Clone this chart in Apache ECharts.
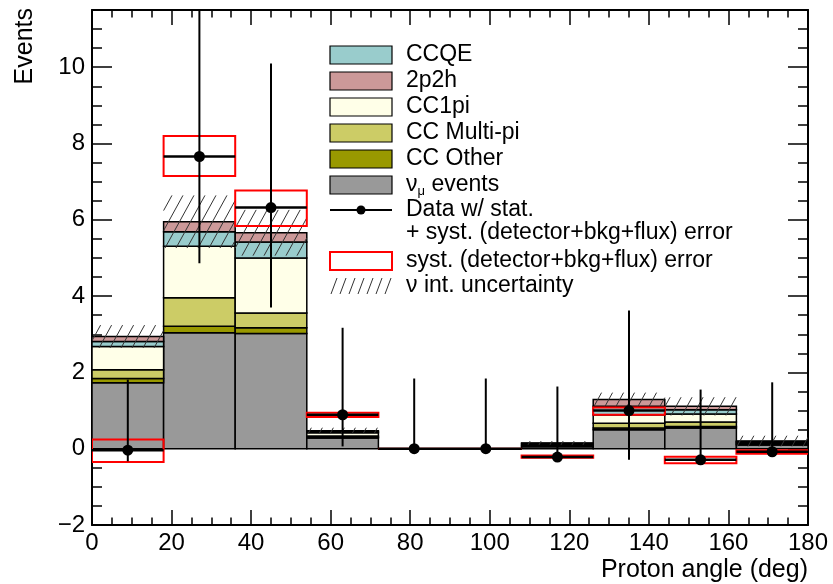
<!DOCTYPE html>
<html>
<head>
<meta charset="utf-8">
<script src="https://cdn.jsdelivr.net/npm/echarts@6/dist/echarts.min.js"></script>
<style>html,body{margin:0;padding:0;background:#fff}#c{width:833px;height:584px}</style>
</head>
<body>
<div id="c"></div>
<script>
// ---- data ----
const binEdges = [0, 18, 36, 54, 72, 90, 108, 126, 144, 162, 180];
// stacked contributions per bin (bottom to top)
const nuMuEvents = [1.73, 3.04, 3.02, 0.28, 0, 0, 0.05, 0.50, 0.54, 0.10];
const ccOther    = [0.11, 0.17, 0.15, 0.02, 0, 0, 0.02, 0.04, 0.04, 0.02];
const ccMultiPi  = [0.23, 0.75, 0.39, 0.03, 0, 0, 0.02, 0.13, 0.12, 0.02];
const cc1pi      = [0.61, 1.35, 1.44, 0.09, 0, 0, 0.03, 0.22, 0.21, 0.03];
const ccqe       = [0.13, 0.38, 0.42, 0.03, 0, 0, 0.02, 0.22, 0.11, 0.02];
const twoP2h     = [0.13, 0.26, 0.24, 0.02, 0, 0, 0.01, 0.18, 0.09, 0.01];
const nuIntUnc   = [0.30, 0.69, 0.60, 0.08, 0, 0, 0.05, 0.18, 0.24, 0.14];
// data
const dataVal  = [-0.04, 7.66, 6.32, 0.89, 0, 0, -0.22, 1.00, -0.29, -0.08];
const errLow   = [-0.33, 4.86, 3.70, 0.06, 0, 0, -0.33, -0.29, -0.37, -0.20];
const errHigh  = [1.81, 12.0, 10.10, 3.17, 1.84, 1.84, 1.63, 3.62, 1.55, 1.74];
const systLow  = [-0.35, 7.15, 5.84, 0.83, 0, 0, -0.24, 0.89, -0.38, -0.13];
const systHigh = [0.24, 8.20, 6.77, 0.94, 0, 0, -0.18, 1.08, -0.21, -0.04];
const xTicks = [0, 20, 40, 60, 80, 100, 120, 140, 160, 180];
const yTicks = [-2, 0, 2, 4, 6, 8, 10];

const FONT = '"Liberation Sans", Arial, Helvetica, sans-serif';
const layers = [
  {name: 'nu_mu events', vals: nuMuEvents, color: '#999999'},
  {name: 'CC Other', vals: ccOther, color: '#999900'},
  {name: 'CC Multi-pi', vals: ccMultiPi, color: '#CCCC66'},
  {name: 'CC1pi', vals: cc1pi, color: '#FFFFE8'},
  {name: 'CCQE', vals: ccqe, color: '#99CCCC'},
  {name: '2p2h', vals: twoP2h, color: '#CC9999'}
];

const nb = binEdges.length - 1;
const cum = new Array(nb).fill(0);
const series = [];
layers.forEach((ly, li) => {
  const d = [];
  for (let i = 0; i < nb; i++) {
    const lo = cum[i];
    const hi = lo + ly.vals[i];
    cum[i] = hi;
    d.push([binEdges[i], binEdges[i + 1], lo, hi]);
  }
  const col = ly.color;
  series.push({
    type: 'custom', name: ly.name, xAxisIndex: 0, yAxisIndex: 0, z: 2 + li * 0.01,
    clip: true, encode: {x: [0, 1], y: [2, 3]}, data: d,
    renderItem: function (params, api) {
      const a = api.coord([api.value(0), api.value(3)]);
      const b = api.coord([api.value(1), api.value(2)]);
      return {type: 'rect', shape: {x: a[0], y: a[1], width: b[0] - a[0], height: b[1] - a[1]},
        style: {fill: col, stroke: '#000', lineWidth: 1.5}};
    }
  });
});

// hatch band
const hatchData = [];
for (let i = 0; i < nb; i++) hatchData.push([binEdges[i], binEdges[i + 1], cum[i] - nuIntUnc[i], cum[i] + nuIntUnc[i]]);
series.push({
  type: 'custom', name: 'nu int. uncertainty', z: 3, clip: true, encode: {x: [0, 1], y: [2, 3]}, data: hatchData,
  renderItem: function (params, api) {
    const a = api.coord([api.value(0), api.value(3)]);
    const b = api.coord([api.value(1), api.value(2)]);
    const L = a[0], R = b[0], T = a[1], B = b[1], H = B - T;
    const s = 11, m = 0.55;
    const ch = [];
    if (H > 0.5) {
      for (let c = Math.floor((L - m * H) / s) * s; c <= R; c += s) {
        const u1 = Math.max(0, (L - c) / m), u2 = Math.min(H, (R - c) / m);
        if (u2 > u1) ch.push({type: 'line', shape: {x1: c + m * u1, y1: B - u1, x2: c + m * u2, y2: B - u2},
          style: {stroke: '#333', lineWidth: 1}});
      }
    }
    return {type: 'group', children: ch};
  }
});

// syst boxes
const systData = [];
for (let i = 0; i < nb; i++) systData.push([binEdges[i], binEdges[i + 1], systLow[i], systHigh[i]]);
series.push({
  type: 'custom', name: 'syst', z: 4, clip: true, encode: {x: [0, 1], y: [2, 3]}, data: systData,
  renderItem: function (params, api) {
    const a = api.coord([api.value(0), api.value(3)]);
    const b = api.coord([api.value(1), api.value(2)]);
    return {type: 'rect', shape: {x: a[0], y: a[1], width: b[0] - a[0], height: b[1] - a[1]},
      style: {fill: null, stroke: '#FF0000', lineWidth: 2}};
  }
});

// data points
const pts = [];
for (let i = 0; i < nb; i++) pts.push([binEdges[i], binEdges[i + 1], dataVal[i], errLow[i], errHigh[i]]);
series.push({
  type: 'custom', name: 'Data', z: 5, clip: true, encode: {x: [0, 1], y: [2, 3, 4]}, data: pts,
  renderItem: function (params, api) {
    const x0 = api.value(0), x1 = api.value(1), xc = (x0 + x1) / 2;
    const pL = api.coord([x0, api.value(2)]);
    const pR = api.coord([x1, api.value(2)]);
    const pC = api.coord([xc, api.value(2)]);
    const pLo = api.coord([xc, api.value(3)]);
    const pHi = api.coord([xc, api.value(4)]);
    return {type: 'group', children: [
      {type: 'line', shape: {x1: pLo[0], y1: pLo[1], x2: pHi[0], y2: pHi[1]}, style: {stroke: '#000', lineWidth: 2}},
      {type: 'line', shape: {x1: pL[0], y1: pL[1], x2: pR[0], y2: pR[1]}, style: {stroke: '#000', lineWidth: 2.5}},
      {type: 'circle', shape: {cx: pC[0], cy: pC[1], r: 5.5}, style: {fill: '#000'}}
    ]};
  }
});

// legend (graphic)
const legendRows = [
  {t: 'CCQE', y: 55, kind: 'box', color: '#99CCCC'},
  {t: '2p2h', y: 81, kind: 'box', color: '#CC9999'},
  {t: 'CC1pi', y: 107, kind: 'box', color: '#FFFFE8'},
  {t: 'CC Multi-pi', y: 133, kind: 'box', color: '#CCCC66'},
  {t: 'CC Other', y: 159, kind: 'box', color: '#999900'},
  {t: '{n|ν}{s|μ}{n| events}', y: 185, kind: 'box', color: '#999999'},
  {t: 'Data w/ stat.', y: 210, kind: 'data'},
  {t: '+ syst. (detector+bkg+flux) error', y: 233, kind: 'none'},
  {t: 'syst. (detector+bkg+flux) error', y: 261, kind: 'red'},
  {t: 'ν int. uncertainty', y: 286, kind: 'hatch'}
];
const graphics = [];
const bx = 330, bw = 62, bh = 18;
legendRows.forEach(r => {
  if (r.kind === 'box') {
    graphics.push({type: 'rect', shape: {x: bx, y: r.y - bh / 2, width: bw, height: bh}, style: {fill: r.color, stroke: '#000', lineWidth: 1.2}});
  } else if (r.kind === 'red') {
    graphics.push({type: 'rect', shape: {x: bx, y: r.y - bh / 2, width: bw, height: bh}, style: {fill: '#fff', stroke: '#FF0000', lineWidth: 2}});
  } else if (r.kind === 'data') {
    graphics.push({type: 'line', shape: {x1: bx, y1: r.y, x2: bx + bw, y2: r.y}, style: {stroke: '#000', lineWidth: 2}});
    graphics.push({type: 'circle', shape: {cx: bx + bw / 2, cy: r.y, r: 4.5}, style: {fill: '#000'}});
  } else if (r.kind === 'hatch') {
    for (let k = 0; k < 7; k++) {
      const x = bx + 1 + k * 9;
      graphics.push({type: 'line', shape: {x1: x, y1: r.y + 8, x2: x + 6, y2: r.y - 8}, style: {stroke: '#333', lineWidth: 1}});
    }
  }
  graphics.push({type: 'text', x: 406, y: r.y, style: {text: r.t, font: '23px ' + FONT, fill: '#000', verticalAlign: 'middle', align: 'left',
    rich: {n: {fontSize: 23, fontFamily: FONT}, s: {fontSize: 13, fontFamily: FONT, padding: [12, 0, 0, 0]}}}});
});

const axisLine = {show: true, onZero: false, lineStyle: {color: '#000', width: 2}};
const tickStyle = {color: '#000', width: 1.5};
const option = {
  animation: false,
  backgroundColor: '#fff',
  grid: {left: 92, right: 25, top: 10, bottom: 59, containLabel: false},
  xAxis: [
    {type: 'value', min: 0, max: 180, interval: 20, position: 'bottom',
      axisLine: axisLine, axisTick: {inside: true, length: 15, lineStyle: tickStyle},
      minorTick: {show: true, splitNumber: 4, length: 7.5, lineStyle: tickStyle},
      splitLine: {show: false}, minorSplitLine: {show: false},
      axisLabel: {fontSize: 24, color: '#000', margin: 6, fontFamily: FONT,
        formatter: v => xTicks.includes(v) ? String(v) : ''},
      name: 'Proton angle (deg)', nameLocation: 'end', nameGap: 0,
      nameTextStyle: {fontSize: 25, color: '#000', fontFamily: FONT, align: 'right', verticalAlign: 'top', padding: [33, 0, 0, 0]}},
    {type: 'value', min: 0, max: 180, interval: 20, position: 'top',
      axisLine: axisLine, axisTick: {inside: true, length: 15, lineStyle: tickStyle},
      minorTick: {show: true, splitNumber: 4, length: 7.5, lineStyle: tickStyle},
      splitLine: {show: false}, axisLabel: {show: false}}
  ],
  yAxis: [
    {type: 'value', min: -2, max: 11.5, interval: 2, position: 'left',
      axisLine: axisLine, axisTick: {inside: true, length: 20, lineStyle: tickStyle},
      splitLine: {show: false},
      axisLabel: {fontSize: 24, color: '#000', margin: 7, fontFamily: FONT, showMaxLabel: false,
        formatter: v => yTicks.includes(v) ? (v < 0 ? '\u2212' + (-v) : String(v)) : ''},
      name: 'Events', nameLocation: 'end', nameGap: 2, nameRotate: 90,
      nameTextStyle: {fontSize: 25, color: '#000', fontFamily: FONT, align: 'right', verticalAlign: 'bottom', padding: [0, 0, 54, 0]}},
    {type: 'value', min: -2, max: 11.5, interval: 0.5, position: 'left',
      axisLine: {show: false, onZero: false}, axisTick: {inside: true, length: 10, lineStyle: tickStyle},
      splitLine: {show: false}, axisLabel: {show: false}},
    {type: 'value', min: -2, max: 11.5, interval: 2, position: 'right',
      axisLine: axisLine, axisTick: {inside: true, length: 20, lineStyle: tickStyle},
      splitLine: {show: false}, axisLabel: {show: false}},
    {type: 'value', min: -2, max: 11.5, interval: 0.5, position: 'right',
      axisLine: {show: false, onZero: false}, axisTick: {inside: true, length: 10, lineStyle: tickStyle},
      splitLine: {show: false}, axisLabel: {show: false}}
  ],
  graphic: graphics,
  series: series
};
const chart = echarts.init(document.getElementById('c'), null, {renderer: 'canvas'});
chart.setOption(option);
</script>
</body>
</html>
